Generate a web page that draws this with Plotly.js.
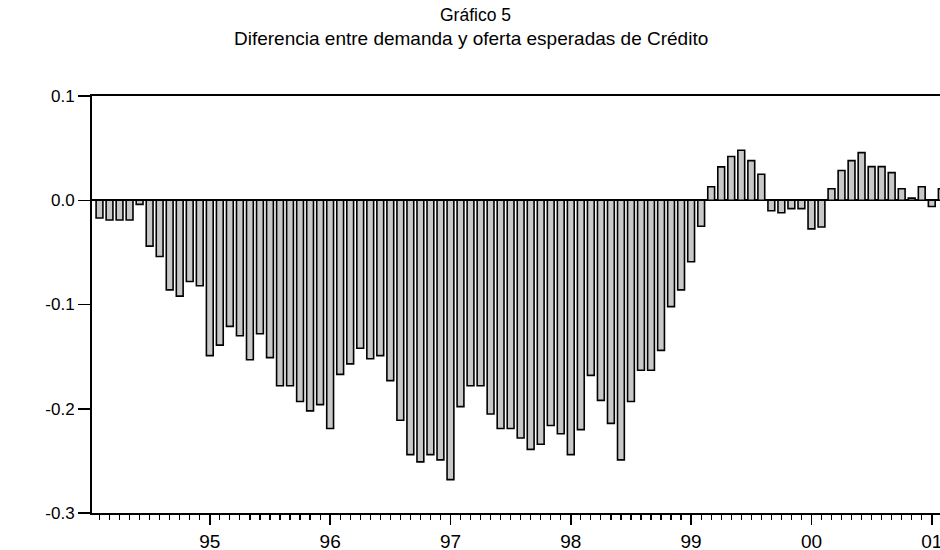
<!DOCTYPE html>
<html>
<head>
<meta charset="utf-8">
<script src="https://cdn.plot.ly/plotly-3.0.1.min.js"></script>
<style>html,body{margin:0;padding:0;background:#fff;}#chart{width:940px;height:550px;}</style>
</head>
<body>
<div id="chart"></div>
<script>
// Monthly observations, 1994:02 – 2001:02
const months = [
  "1994-02","1994-03","1994-04","1994-05","1994-06","1994-07","1994-08","1994-09","1994-10","1994-11","1994-12",
  "1995-01","1995-02","1995-03","1995-04","1995-05","1995-06","1995-07","1995-08","1995-09","1995-10","1995-11","1995-12",
  "1996-01","1996-02","1996-03","1996-04","1996-05","1996-06","1996-07","1996-08","1996-09","1996-10","1996-11","1996-12",
  "1997-01","1997-02","1997-03","1997-04","1997-05","1997-06","1997-07","1997-08","1997-09","1997-10","1997-11","1997-12",
  "1998-01","1998-02","1998-03","1998-04","1998-05","1998-06","1998-07","1998-08","1998-09","1998-10","1998-11","1998-12",
  "1999-01","1999-02","1999-03","1999-04","1999-05","1999-06","1999-07","1999-08","1999-09","1999-10","1999-11","1999-12",
  "2000-01","2000-02","2000-03","2000-04","2000-05","2000-06","2000-07","2000-08","2000-09","2000-10","2000-11","2000-12",
  "2001-01","2001-02"
];

const difference = [
  -0.017,-0.019,-0.019,-0.019,-0.004,-0.044,-0.054,-0.086,-0.092,-0.078,-0.082,
  -0.149,-0.139,-0.121,-0.130,-0.153,-0.128,-0.151,-0.178,-0.178,-0.193,-0.202,-0.196,
  -0.219,-0.167,-0.157,-0.142,-0.152,-0.149,-0.173,-0.211,-0.244,-0.251,-0.244,-0.249,
  -0.268,-0.198,-0.178,-0.178,-0.205,-0.219,-0.219,-0.228,-0.239,-0.234,-0.216,-0.224,
  -0.244,-0.220,-0.168,-0.192,-0.214,-0.249,-0.193,-0.163,-0.163,-0.144,-0.102,-0.086,
  -0.059,-0.025,0.013,0.032,0.042,0.048,0.038,0.025,-0.010,-0.012,-0.008,-0.008,
  -0.0275,-0.0256,0.011,0.0285,0.038,0.0457,0.0323,0.0323,0.0265,0.011,0.002,0.013,
  -0.006,0.011
];

const titleLine1 = "Gráfico 5";
const titleLine2 = "Diferencia entre demanda y oferta esperadas de Crédito";
const yearTickMonths = ["1995-01","1996-01","1997-01","1998-01","1999-01","2000-01","2001-01"];
const yearTickText = ["95","96","97","98","99","00","01"];
const yTickVals = [0.1, 0.0, -0.1, -0.2, -0.3];
const yTickText = ["0.1","0.0","-0.1","-0.2","-0.3"];

const xIdx = months.map((m, i) => i);
const xTickVals = yearTickMonths.map(m => months.indexOf(m));

const FONT = "Arial, 'Liberation Sans', Helvetica, sans-serif";

const trace = {
  type: "bar",
  x: xIdx,
  y: difference,
  customdata: months,
  width: 0.68,
  marker: { color: "#c8c8c8", line: { color: "#000", width: 1.6 } },
  hovertemplate: "%{customdata}: %{y}<extra></extra>"
};

const layout = {
  width: 940, height: 550,
  margin: { l: 92, r: 0, t: 96, b: 37, pad: 0 },
  paper_bgcolor: "#fff", plot_bgcolor: "#fff",
  showlegend: false,
  font: { family: FONT, color: "#000", size: 17 },
  annotations: [
    { text: titleLine1, xref: "paper", yref: "paper", x: 0.4517, y: 1.1942,
      xanchor: "center", yanchor: "middle", showarrow: false,
      font: { family: FONT, size: 17.5, color: "#000" } },
    { text: titleLine2, xref: "paper", yref: "paper", x: 0.4469, y: 1.1379,
      xanchor: "center", yanchor: "middle", showarrow: false,
      font: { family: FONT, size: 19, color: "#000" } }
  ],
  xaxis: {
    range: [-0.748, 83.82],
    showgrid: false, zeroline: false,
    showline: true, linecolor: "#000", linewidth: 2, mirror: true,
    tickmode: "array", tickvals: xTickVals, ticktext: yearTickText,
    ticks: "outside", ticklen: 10, tickwidth: 1.5, tickcolor: "#000",
    ticklabelstandoff: 0,
    ticklabeloverflow: "allow",
    tickfont: { family: FONT, size: 19, color: "#000" },
    minor: { tickmode: "linear", tick0: 0, dtick: 1, ticks: "outside", ticklen: 5, tickwidth: 1.2, tickcolor: "#000", showgrid: false },
    fixedrange: true
  },
  yaxis: {
    range: [-0.3, 0.1],
    showgrid: false,
    zeroline: true, zerolinecolor: "#000", zerolinewidth: 2,
    showline: true, linecolor: "#000", linewidth: 2,
    tickmode: "array", tickvals: yTickVals, ticktext: yTickText,
    ticks: "outside", ticklen: 12, tickwidth: 1.5, tickcolor: "#000",
    ticklabelstandoff: 0,
    tickfont: { family: FONT, size: 17, color: "#000" },
    fixedrange: true
  },
  bargap: 0.3
};

Plotly.newPlot("chart", [trace], layout, { displayModeBar: false, staticPlot: true });
</script>
</body>
</html>
